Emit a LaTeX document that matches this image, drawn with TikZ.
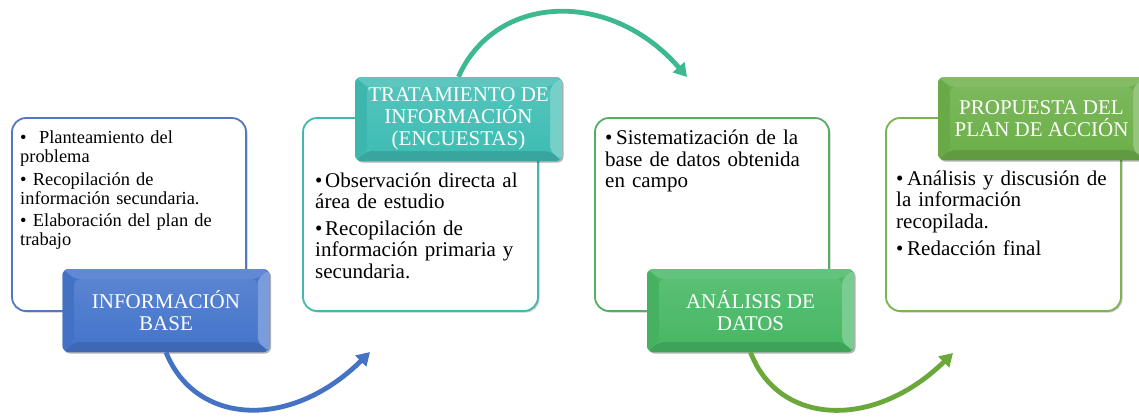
\documentclass[tikz,border=0pt]{standalone}
\usepackage{fontspec}
\setmainfont{Liberation Serif}
\usetikzlibrary{arrows.meta,shadows,calc}

\definecolor{blueLab}{HTML}{4676CC}
\definecolor{tealLab}{HTML}{40BDB4}
\definecolor{grnLabA}{HTML}{48B865}
\definecolor{grnLabB}{HTML}{6DB04A}
\definecolor{blueArr}{HTML}{4472C4}
\definecolor{tealArr}{HTML}{3CB98E}
\definecolor{grnArr}{HTML}{6AA83C}
\definecolor{blueBrd}{HTML}{5577C2}
\definecolor{tealBrd}{HTML}{45B8AE}
\definecolor{grnBrdA}{HTML}{55AE62}
\definecolor{grnBrdB}{HTML}{78B452}

\newcommand{\bitem}[2]{\noindent\hangindent=#1\hangafter=1\strut\makebox[#1][l]{\textbullet}#2\strut\par}

\tikzset{
  panel/.style={draw=#1, line width=1.8pt, fill=white, rounded corners=14pt, inner sep=0pt,
    minimum height=193pt,
    drop shadow={shadow xshift=1.5pt, shadow yshift=-1.5pt, opacity=0.22, fill=black}},
  lab/.style={rounded corners=6pt, minimum width=207pt, minimum height=83pt, inner sep=0pt,
    text=white, align=center, font=\fontsize{21}{22}\selectfont, fill=#1,
    drop shadow={shadow xshift=1.5pt, shadow yshift=-1.5pt, opacity=0.3, fill=black},
    path picture={
      \fill[#1!85!white] (path picture bounding box.north west) -- (path picture bounding box.north east)
        -- ($(path picture bounding box.north east)+(-12pt,-10pt)$) -- ($(path picture bounding box.north west)+(12pt,-10pt)$) -- cycle;
      \fill[#1!72!white] (path picture bounding box.north east) -- (path picture bounding box.south east)
        -- ($(path picture bounding box.south east)+(-12pt,10pt)$) -- ($(path picture bounding box.north east)+(-12pt,-10pt)$) -- cycle;
      \fill[#1!88!black] (path picture bounding box.south west) -- (path picture bounding box.south east)
        -- ($(path picture bounding box.south east)+(-12pt,10pt)$) -- ($(path picture bounding box.south west)+(12pt,10pt)$) -- cycle;
      \fill[#1!96!black] (path picture bounding box.north west) -- (path picture bounding box.south west)
        -- ($(path picture bounding box.south west)+(12pt,10pt)$) -- ($(path picture bounding box.north west)+(12pt,-10pt)$) -- cycle;
      \shade[top color=#1!90!white, bottom color=#1]
        ($(path picture bounding box.north west)+(12pt,-10pt)$) rectangle ($(path picture bounding box.south east)+(-12pt,10pt)$);
    }},
  txtA/.style={anchor=north west, inner sep=0pt, align=left, text width=228pt, text=black,
    font=\fontsize{18.4}{19}\selectfont},
  txtB/.style={anchor=north west, inner sep=0pt, align=left, text width=230pt, text=black,
    font=\fontsize{21}{21.7}\selectfont},
  arr/.style={line width=4.8pt, -{Triangle[length=13pt,width=15pt]}},
}

\begin{document}
\begin{tikzpicture}[x=1pt,y=-1pt]
\useasboundingbox (0,0) rectangle (1139,416);

% panels
\node[panel=blueBrd, minimum width=234pt] (b1) at (129,214.5) {};
\node[panel=tealBrd, minimum width=235pt] (b2) at (420.5,214.5) {};
\node[panel=grnBrdA, minimum width=234pt] (b3) at (712,214.5) {};
\node[panel=grnBrdB, minimum width=235pt] (b4) at (1003.5,214.5) {};

% panel texts
\node[txtA] (t1) at (20,130) {%
\bitem{12.7pt}{\ Planteamiento del\\problema}\vspace{3.5pt}
\bitem{12.7pt}{Recopilación de\\información secundaria.}\vspace{3.5pt}
\bitem{12.7pt}{Elaboración del plan de\\trabajo}};
\node[txtB] (t2) at (315,171.8) {%
\bitem{10pt}{Observación directa al\\área de estudio}\vspace{4.5pt}
\bitem{10pt}{Recopilación de\\información primaria y\\secundaria.}};
\node[txtB] (t3) at (605,129.1) {%
\bitem{11pt}{Sistematización de la\\base de datos obtenida\\en campo}};
\node[txtB] (t4) at (896,169.8) {%
\bitem{11pt}{Análisis y discusión de\\la información\\recopilada.}\vspace{5pt}
\bitem{11pt}{Redacción final}};

% labels
\node[lab=blueLab] (l1) at (166,310.5) {INFORMACIÓN\\BASE};
\node[lab=tealLab, minimum height=84pt] (l2) at (458.5,119) {TRATAMIENTO DE\\INFORMACIÓN\\(ENCUESTAS)};
\node[lab=grnLabA] (l3) at (750.5,310.5) {ANÁLISIS DE\\DATOS};
\node[lab=grnLabB] (l4) at (1041.5,118.5) {PROPUESTA DEL\\PLAN DE ACCIÓN};

% arrow ends
\coordinate (a1e) at (370,352);
\coordinate (a2e) at (687,77);
\coordinate (a3e) at (953,353);

% arrows
\draw[arr, blueArr] (l1.south) .. controls (195,425) and (290,431) .. (a1e);
\draw[arr, tealArr] (l2.north) .. controls (495,-6) and (610,-12) .. (a2e);
\draw[arr, grnArr] (l3.south) .. controls (778,425) and (873,431) .. (a3e);
\end{tikzpicture}
\end{document}
